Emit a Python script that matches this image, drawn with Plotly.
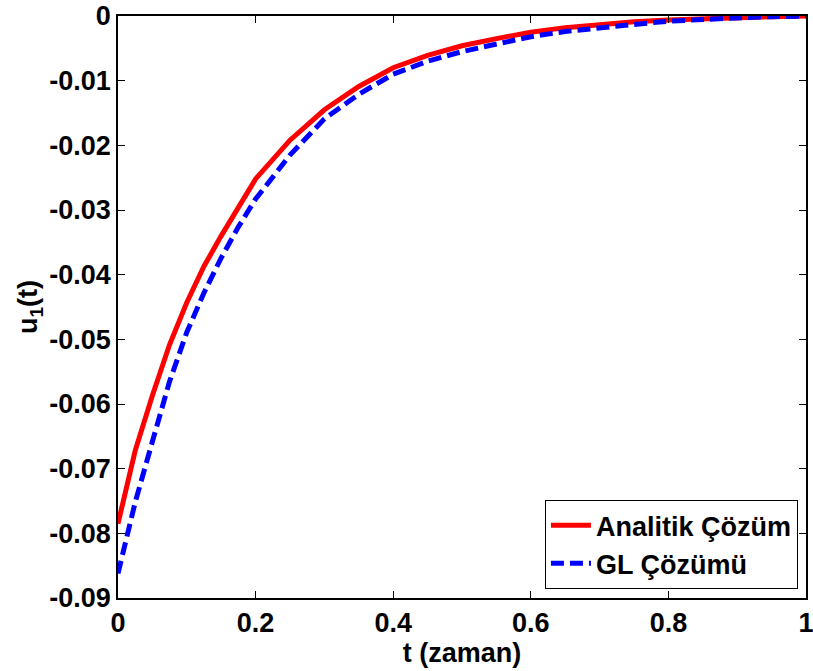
import plotly.graph_objects as go

t = [0.0, 0.025, 0.05, 0.075, 0.1, 0.125, 0.15, 0.175, 0.2, 0.25, 0.3, 0.35, 0.4,
     0.45, 0.5, 0.55, 0.6, 0.65, 0.7, 0.75, 0.8, 0.85, 0.9, 0.95, 1.0]
analitik = [-0.0785, -0.0672, -0.0587, -0.0508, -0.0443, -0.0387, -0.0340, -0.0295,
            -0.0252, -0.0192, -0.0145, -0.0109, -0.0080, -0.0061, -0.0046, -0.0035,
            -0.0025, -0.0018, -0.0013, -0.0009, -0.0006, -0.0004, -0.0002, -0.0001, 0.0]
gl = [-0.0862, -0.0752, -0.0658, -0.0565, -0.0489, -0.0428, -0.0374, -0.0326,
      -0.0283, -0.0215, -0.0159, -0.0121, -0.0090, -0.0070, -0.0055, -0.0043,
      -0.0032, -0.0024, -0.0018, -0.0013, -0.0008, -0.0005, -0.0003, -0.0001, 0.0]

x_ticks = [0, 0.2, 0.4, 0.6, 0.8, 1]
x_labels = ["0", "0.2", "0.4", "0.6", "0.8", "1"]
y_ticks = [0, -0.01, -0.02, -0.03, -0.04, -0.05, -0.06, -0.07, -0.08, -0.09]
y_labels = ["0", "-0.01", "-0.02", "-0.03", "-0.04", "-0.05", "-0.06", "-0.07", "-0.08", "-0.09"]

FONT = "Liberation Sans, Arial, sans-serif"
FS = 27

fig = go.Figure()
fig.add_trace(go.Scatter(x=t, y=analitik, mode="lines", name="<b>Analitik Çözüm</b>",
                         line=dict(color="#ff0000", width=5)))
fig.add_trace(go.Scatter(x=t, y=gl, mode="lines", name="<b>GL Çözümü</b>",
                         line=dict(color="#0000ff", width=5, dash="13px,6px")))

axis_common = dict(showgrid=False, zeroline=False, showline=True, linecolor="black",
                   linewidth=1.5, mirror="ticks", ticks="inside", ticklen=7,
                   tickcolor="black", tickwidth=1, automargin=False,
                   ticklabeloverflow="allow",
                   tickfont=dict(family=FONT, size=FS, color="black", weight="bold"))

fig.update_xaxes(range=[0, 1], tickvals=x_ticks, ticktext=x_labels,
                 title=dict(text="<b>t (zaman)</b>", font=dict(family=FONT, size=FS, color="black"),
                            standoff=0),
                 **axis_common)
fig.update_yaxes(range=[-0.09, 0], tickvals=y_ticks, ticktext=y_labels,
                 title=dict(text="<b>u<sub>1</sub>(t)</b>", font=dict(family=FONT, size=FS, color="black"),
                            standoff=4),
                 **axis_common)

fig.update_layout(
    width=813, height=671,
    margin=dict(l=118, r=7, t=16, b=73),
    plot_bgcolor="white", paper_bgcolor="white",
    font=dict(family=FONT, color="black"),
    legend=dict(x=0.988, y=0.0155, xanchor="right", yanchor="bottom",
                bgcolor="white", bordercolor="black", borderwidth=1.2,
                font=dict(family=FONT, size=FS, color="black"),
                tracegroupgap=0, itemwidth=40),
    showlegend=True,
)

fig.write_html("out.html", config={"displayModeBar": False},
               post_script="document.body.style.margin='0';document.body.style.overflow='hidden';")
